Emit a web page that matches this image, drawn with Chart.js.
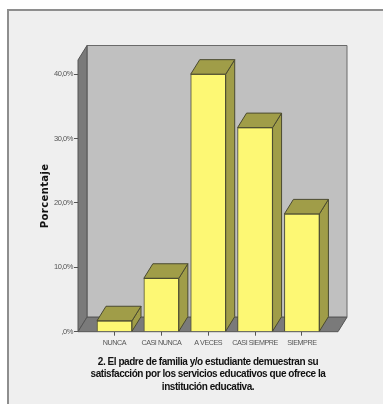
<!DOCTYPE html>
<html>
<head>
<meta charset="utf-8">
<script src="https://cdn.jsdelivr.net/npm/chart.js@4"></script>
<style>
html, body { margin: 0; padding: 0; background: #fff; }
canvas { display: block; filter: blur(0.35px); }
</style>
</head>
<body>
<canvas id="myChart" width="383" height="404"></canvas>
<script>
"use strict";

const categories = ["NUNCA", "CASI NUNCA", "A VECES", "CASI SIEMPRE", "SIEMPRE"];
const porcentajes = [1.7, 8.3, 40.0, 31.7, 18.3];
const yTicks = [0, 10, 20, 30, 40];
const yTickLabels = [",0%", "10,0%", "20,0%", "30,0%", "40,0%"];
const xTitle = [
    "2. El padre de familia y/o estudiante demuestran su",
    "satisfacción por los servicios educativos que ofrece la",
    "institución educativa."
];
const yTitle = "Porcentaje";

// profundidad del efecto 3D
const depthX = 9;
const depthY = 14.5;

const poly = (ctx, pts, fill, stroke) => {
    ctx.beginPath();
    pts.forEach((p, i) => i ? ctx.lineTo(p[0], p[1]) : ctx.moveTo(p[0], p[1]));
    ctx.closePath();
    ctx.fillStyle = fill;
    ctx.fill();
    ctx.lineWidth = 1;
    ctx.strokeStyle = stroke;
    ctx.stroke();
};

const frame = {
    id: "frame",
    beforeDraw(chart) {
        const ctx = chart.ctx;
        ctx.save();
        ctx.fillStyle = "#ffffff";
        ctx.fillRect(0, 0, 383, 404);
        ctx.fillStyle = "#efefef";
        ctx.fillRect(8, 10, 375, 394);
        ctx.fillStyle = "#8e8e8e";
        ctx.fillRect(7, 9, 376, 2);
        ctx.fillRect(7, 9, 2, 395);
        ctx.restore();

        // texto condensado como en el original, salvo el titulo del eje y
        ctx.letterSpacing = "-0.45px";
        const yScale = chart.scales.y;
        if (!yScale.wrapped) {
            const drawTitle = yScale.drawTitle;
            yScale.drawTitle = function () {
                ctx.letterSpacing = "0.4px";
                drawTitle.apply(this, arguments);
                ctx.letterSpacing = "-0.45px";
            };
            yScale.wrapped = true;
        }
    },
    beforeDatasetsDraw(chart) {
        const ctx = chart.ctx;
        const { left, right, top, bottom } = chart.chartArea;
        const dx = depthX, dy = depthY;
        ctx.save();
        poly(ctx, [[left + dx, top - dy], [right + dx, top - dy], [right + dx, bottom - dy], [left + dx, bottom - dy]], "#c0c0c0", "#6a6a6a");
        poly(ctx, [[left, top], [left + dx, top - dy], [left + dx, bottom - dy], [left, bottom]], "#7a7a7a", "#555555");
        poly(ctx, [[left, bottom], [left + dx, bottom - dy], [right + dx, bottom - dy], [right, bottom]], "#7a7a7a", "#555555");
        ctx.restore();
    },
    afterDatasetsDraw(chart) {
        const ctx = chart.ctx;
        const dx = depthX, dy = depthY;
        ctx.save();
        chart.getDatasetMeta(0).data.forEach(bar => {
            const l = bar.x - bar.width / 2;
            const r = bar.x + bar.width / 2;
            const t = bar.y;
            const b = bar.base;
            poly(ctx, [[r, t], [r + dx, t - dy], [r + dx, b - dy], [r, b]], "#a09d48", "#4a4a30");
            poly(ctx, [[l, t], [l + dx, t - dy], [r + dx, t - dy], [r, t]], "#a09d48", "#4a4a30");
        });
        ctx.restore();
    }
};

new Chart(document.getElementById("myChart"), {
    type: "bar",
    data: {
        datasets: [{
            data: categories.map((c, i) => ({ x: i, y: porcentajes[i] })),
            backgroundColor: "#fdf874",
            borderColor: "#4a4a30",
            borderWidth: 1,
            barThickness: 35
        }]
    },
    plugins: [frame],
    options: {
        responsive: false,
        animation: false,
        layout: { padding: { left: 0, right: 45, top: 60, bottom: 0 } },
        plugins: { legend: { display: false }, tooltip: { enabled: false } },
        scales: {
            x: {
                type: "linear",
                offset: false,
                min: -0.779,
                max: 4.77,
                afterBuildTicks: scale => { scale.ticks = categories.map((c, i) => ({ value: i })); },
                afterFit: scale => { scale.height = 72.3; },
                border: { display: false },
                grid: { offset: false, drawOnChartArea: false, drawTicks: true, tickLength: 4, color: "#555555" },
                ticks: {
                    autoSkip: false,
                    maxRotation: 0,
                    padding: 3,
                    color: "#555555",
                    font: { family: "'Liberation Sans'", size: 7.2 },
                    callback: v => categories[v]
                },
                title: {
                    display: true,
                    text: xTitle,
                    color: "#111111",
                    padding: { top: 8, bottom: 11 },
                    font: { family: "'Liberation Sans'", size: 10, weight: "bold", lineHeight: 1.25 }
                }
            },
            y: {
                min: 0,
                max: 42.2,
                afterBuildTicks: scale => { scale.ticks = yTicks.map(v => ({ value: v })); },
                afterFit: scale => { scale.width = 78; },
                border: { display: false },
                grid: { drawOnChartArea: false, drawTicks: true, tickLength: 4, color: "#555555" },
                ticks: {
                    padding: 1,
                    color: "#555555",
                    font: { family: "'Liberation Sans'", size: 7.5 },
                    callback: v => yTickLabels[yTicks.indexOf(v)]
                },
                title: {
                    display: true,
                    text: yTitle,
                    color: "#111111",
                    padding: { top: 39, bottom: 0 },
                    font: { family: "'DejaVu Sans'", size: 10, weight: "bold" }
                }
            }
        }
    }
});
</script>
</body>
</html>
